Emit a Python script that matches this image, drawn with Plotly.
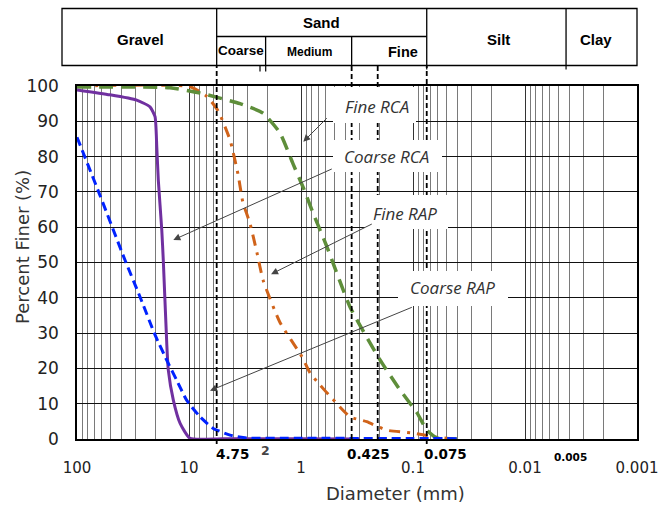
import math
import plotly.graph_objects as go

# ---------------- data (diameter in mm, percent finer) ----------------
coarse_rca_d = [100, 50.8, 29.3, 22.3, 20.1, 19.4, 18.8, 17.5, 16.97, 15.8, 15.3, 13.8, 12.0, 9.8, 5.0, 1.0, 0.3]
coarse_rca_p = [98.9, 97.5, 96.0, 94.1, 91.3, 82.8, 73.4, 59.2, 50.7, 27.1, 19.5, 11.0, 4.4, 0.2, 0.1, 0.05, 0.0]

fine_rca_d = [100, 14.8, 7.98, 3.50, 2.18, 1.54, 1.18, 0.96, 0.78, 0.586, 0.365, 0.197, 0.1306, 0.092, 0.075, 0.061, 0.0405]
fine_rca_p = [99.7, 99.5, 98.0, 95.0, 92.3, 86.7, 78.0, 71.4, 64.0, 54.4, 37.4, 22.4, 13.9, 7.4, 2.5, 0.3, 0.0]

fine_rap_d = [100, 9.8, 6.91, 5.51, 4.30, 3.65, 3.30, 2.85, 2.47, 2.18, 1.54, 0.98, 0.831, 0.677, 0.532, 0.365, 0.259, 0.172, 0.1, 0.0663, 0.044]
fine_rap_p = [100, 99.8, 97.0, 93.0, 84.7, 75.0, 67.0, 61.0, 52.7, 45.0, 33.0, 23.3, 18.7, 15.3, 11.6, 6.3, 4.9, 2.5, 1.7, 0.65, 0.0]

coarse_rap_d = [100, 62.3, 37.3, 27.4, 20.1, 15.3, 12.9, 10.5, 7.98, 6.07, 4.30, 3.05, 1.0, 0.1, 0.0405]
coarse_rap_p = [85.5, 69.0, 50.7, 40.3, 29.5, 21.4, 16.7, 11.0, 6.3, 3.0, 1.1, 0.3, 0.2, 0.15, 0.1]

x_tick_vals = [100, 10, 1, 0.1, 0.01, 0.001]
x_tick_text = ["100", "10", "1", "0.1", "0.01", "0.001"]
minor_vals = [k * 10 ** e for e in range(-3, 2) for k in range(2, 10)]

# sieve boundaries (as drawn): gravel/sand, coarse/medium, medium/fine, sand/silt, silt/clay
table_bounds = [5.66, 2.07, 0.353, 0.0754, 0.0043]
dashed_lines = [5.66, 0.353, 0.2066, 0.0754]

series_labels = ["Fine RCA", "Coarse RCA", "Fine RAP", "Coarse RAP"]
arrow_heads_d = [0.954, 13.8, 1.85, 6.49]
arrow_heads_p = [84.2, 56.4, 46.7, 13.7]

# ---------------- geometry helpers (layout in pixels) ----------------
W, H = 660, 506
PL, PR, PT, PB = 77, 637, 86, 439
PW, PH = PR - PL, PB - PT


def xpap(px):
    return (px - PL) / PW


def ypap(py):
    return (PB - py) / PH


def dpap(d):
    return (2 - math.log10(d)) / 5.0


fig = go.Figure()

series = [
    ("Fine RAP", fine_rap_d, fine_rap_p, "#D0631A", "11px,7px,3px,7px", 3),
    ("Fine RCA", fine_rca_d, fine_rca_p, "#5E8E3A", "14px,8px", 3.5),
    ("Coarse RCA", coarse_rca_d, coarse_rca_p, "#7030A0", "solid", 3),
    ("Coarse RAP", coarse_rap_d, coarse_rap_p, "#0022FF", "9px,5px", 3),
]
for name, d, p, col, dash, w in series:
    fig.add_trace(go.Scatter(
        x=d, y=p, mode="lines", name=name,
        line=dict(color=col, width=w, dash=dash, shape="spline", smoothing=0.5),
        showlegend=False, hoverinfo="skip"))

shapes = []
# dashed sieve lines
ext = {5.66: 444, 0.0754: 444}
for d in dashed_lines:
    x = dpap(d)
    shapes.append(dict(type="line", xref="paper", yref="paper", x0=x, x1=x,
                       y0=ypap(ext.get(d, 439)), y1=ypap(66),
                       line=dict(color="black", width=1.8, dash="5px,3px"), layer="above"))

# white label boxes
boxes = [(333, 416, 87, 123), (333, 442, 140, 172), (365, 448, 195, 229), (398, 508, 271, 306)]
for x0, x1, y0, y1 in boxes:
    shapes.append(dict(type="rect", xref="paper", yref="paper", x0=xpap(x0), x1=xpap(x1),
                       y0=ypap(y1), y1=ypap(y0), fillcolor="white",
                       line=dict(width=0), layer="above"))

# top classification table
tl, tr, tt, tm, tb = xpap(62), 1.0, ypap(8.5), ypap(36.5), ypap(65.5)
tline = dict(color="black", width=1.3)
shapes.append(dict(type="rect", xref="paper", yref="paper", x0=tl, x1=tr, y0=tb, y1=tt,
                   line=tline, fillcolor="white"))
gs, cm, mf, ss, sc = [dpap(v) for v in table_bounds]
shapes.append(dict(type="line", xref="paper", yref="paper", x0=gs, x1=ss, y0=tm, y1=tm, line=tline))
for x in (gs, ss, sc):
    shapes.append(dict(type="line", xref="paper", yref="paper", x0=x, x1=x, y0=tb, y1=tt, line=tline))
for x in (cm, mf):
    shapes.append(dict(type="line", xref="paper", yref="paper", x0=x, x1=x, y0=tb, y1=tm, line=tline))
# small ticks below table
for px, l in ((260, 6), (265.7, 6), (ss * PW + PL, 4), (sc * PW + PL, 4)):
    shapes.append(dict(type="line", xref="paper", yref="paper", x0=xpap(px), x1=xpap(px),
                       y0=ypap(65.5 + l), y1=tb, line=dict(color="black", width=1.2)))

ann = []


def txt(s, px, py, size=15, bold=True, fam="Liberation Sans, Arial", color="black", italic=False):
    s2 = f"<b>{s}</b>" if bold else s
    if italic:
        s2 = f"<i>{s2}</i>"
    ann.append(dict(text=s2, xref="paper", yref="paper", x=xpap(px), y=ypap(py),
                    xanchor="center", yanchor="middle", showarrow=False,
                    font=dict(family=fam, size=size, color=color)))


txt("Gravel", 140, 40, 15)
txt("Sand", 321, 22.5, 15)
txt("Coarse", 241, 51, 13.5)
txt("Medium", 309, 51.5, 12)
txt("Fine", 403, 51.5, 14.5)
txt("Silt", 498, 40, 15)
txt("Clay", 596, 40, 15)

# bold sieve labels under the axis
vf = "DejaVu Sans, Verdana"
txt("4.75", 232, 454, 13.5, fam=vf)
txt("2", 265, 450, 12.5, fam=vf, color="#444")
txt("0.425", 368.5, 454, 13.5, fam=vf)
txt("0.075", 445, 454, 13.5, fam=vf)
txt("0.005", 570, 457, 10.5, fam=vf)

# series labels
label_pos = [(376.5, 106.5), (386.5, 156.5), (405, 213), (452, 287)]
for s, (px, py) in zip(series_labels, label_pos):
    txt(s, px, py, 17, bold=False, italic=True, fam="Open Sans, Lato", color="#333")

# arrows
tails = [(328.3, 116.7), (333.3, 168.3), (373.3, 223.3), (413.3, 306.7)]
for d, p, (tx, ty) in zip(arrow_heads_d, arrow_heads_p, tails):
    hx = PL + dpap(d) * PW
    hy = PB - p / 100 * PH
    ann.append(dict(text="", x=math.log10(d), y=p, xref="x", yref="y",
                    showarrow=True, arrowhead=2, arrowsize=1.4, arrowwidth=1,
                    arrowcolor="#444", ax=tx - hx, ay=ty - hy, standoff=0))

# axis titles
txt("Diameter (mm)", 395.5, 493, 18, bold=False, fam=vf, color="#333")
ann.append(dict(text="Percent Finer (%)", xref="paper", yref="paper", x=xpap(23), y=ypap(247),
                xanchor="center", yanchor="middle", textangle=-90, showarrow=False,
                font=dict(family=vf, size=18, color="#333")))

fig.update_layout(
    width=W, height=H, autosize=False,
    margin=dict(l=PL, r=W - PR, t=PT, b=H - PB, pad=0, autoexpand=False),
    paper_bgcolor="white", plot_bgcolor="white",
    shapes=shapes, annotations=ann,
    font=dict(family=vf, color="#222"),
)
fig.update_xaxes(
    type="log", range=[2, -3], tickmode="array", tickvals=x_tick_vals, ticktext=x_tick_text,
    tickfont=dict(size=15, color="#222", family=vf), automargin=False,
    ticks="outside", ticklen=14, tickcolor="rgba(0,0,0,0)",
    showgrid=True, gridcolor="#333", gridwidth=1,
    minor=dict(tickmode="array", tickvals=minor_vals, showgrid=True, gridcolor="#7a7a7a",
               gridwidth=1, ticks=""),
    showline=True, mirror=True, linecolor="black", linewidth=1.5, zeroline=False,
)
fig.update_yaxes(
    range=[0, 100], tickmode="linear", tick0=0, dtick=10,
    tickfont=dict(size=17, color="#222", family=vf), automargin=False,
    ticks="outside", ticklen=13, tickcolor="rgba(0,0,0,0)",
    showgrid=True, gridcolor="#111", gridwidth=1,
    showline=True, mirror=True, linecolor="black", linewidth=1.5, zeroline=False,
)

fig.write_html(
    "out.html",
    config={"displayModeBar": False, "responsive": False},
    post_script="document.body.style.margin='0';document.body.style.overflow='hidden';",
)
